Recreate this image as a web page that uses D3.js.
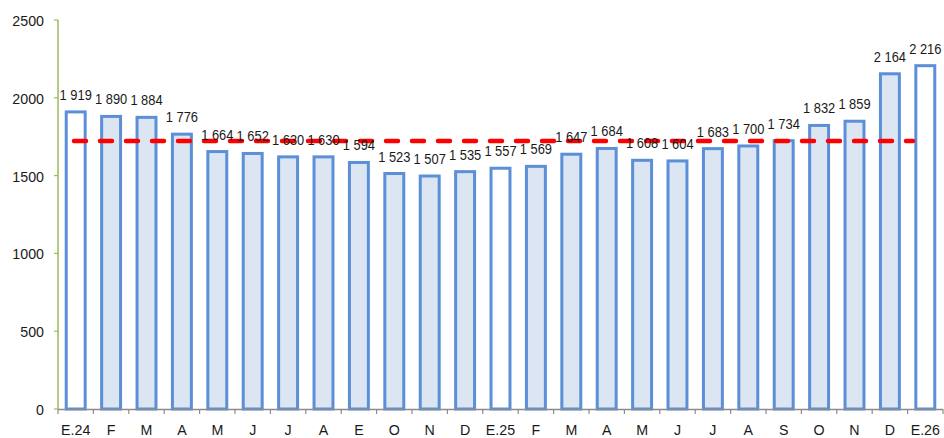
<!DOCTYPE html>
<html><head><meta charset="utf-8">
<script src="https://cdn.jsdelivr.net/npm/d3@7"></script>
<style>body{margin:0;background:#fff}svg{display:block}text{font-family:"Liberation Sans",Arial,sans-serif}</style>
</head><body><svg id="c" width="944" height="438"></svg>
<script>
const categories = ["E.24","F","M","A","M","J","J","A","E","O","N","D","E.25","F","M","A","M","J","J","A","S","O","N","D","E.26"];
const values = [1919,1890,1884,1776,1664,1652,1630,1630,1594,1523,1507,1535,1557,1569,1647,1684,1608,1604,1683,1700,1734,1832,1859,2164,2216];
const labels = ["1 919","1 890","1 884","1 776","1 664","1 652","1 630","1 630","1 594","1 523","1 507","1 535","1 557","1 569","1 647","1 684","1 608","1 604","1 683","1 700","1 734","1 832","1 859","2 164","2 216"];
const januaries = ["E.24","E.25","E.26"];
const averageValue = 1722;
const averagePoints = 24;
const yTicks = [0,500,1000,1500,2000,2500];

const svg = d3.select("#c");
const mLeft = 58, mRight = 943, mTop = 20, mBottom = 409;
const keys = categories.map((c,i)=>i);
const x = d3.scaleBand().domain(keys).range([mLeft,mRight]).paddingInner(0.38).paddingOuter(0.19);
const y = d3.scaleLinear().domain([0,2500]).range([mBottom,mTop]);
const step = x.step();

// bars
svg.append("g").selectAll("rect").data(values).join("rect")
  .attr("x",(d,i)=>x(i)+1.5).attr("width",x.bandwidth()-3)
  .attr("y",d=>y(d)+1.5).attr("height",d=>mBottom-y(d)-1.5)
  .attr("fill",(d,i)=>januaries.includes(categories[i])?"#ffffff":"#dce6f2")
  .attr("stroke","#5b8fd8").attr("stroke-width",3);

// x axis
const gx = svg.append("g");
gx.append("line").attr("x1",mLeft).attr("x2",mRight).attr("y1",mBottom+0.5).attr("y2",mBottom+0.5).attr("stroke","#8c8c8c").attr("stroke-width",1.5);
gx.selectAll("line.t").data(d3.range(categories.length+1)).join("line").attr("class","t")
  .attr("x1",i=>mLeft+i*step).attr("x2",i=>mLeft+i*step).attr("y1",mBottom).attr("y2",mBottom+5)
  .attr("stroke","#8c8c8c").attr("stroke-width",1.2);
gx.selectAll("text").data(categories).join("text")
  .attr("transform",(d,i)=>`translate(${x(i)+x.bandwidth()/2},435) scale(0.95,1)`)
  .attr("text-anchor","middle")
  .attr("font-size",15).attr("fill","#1a1a1a").text(d=>d);

// y axis
const gy = svg.append("g");
gy.append("line").attr("x1",mLeft).attr("x2",mLeft).attr("y1",mTop).attr("y2",mBottom).attr("stroke","#9bbb59").attr("stroke-width",1.5);
gy.selectAll("line.t").data(yTicks).join("line").attr("class","t")
  .attr("x1",mLeft-4).attr("x2",mLeft).attr("y1",d=>y(d)).attr("y2",d=>y(d)).attr("stroke","#9bbb59").attr("stroke-width",1.2);
gy.selectAll("text").data(yTicks).join("text")
  .attr("transform",d=>`translate(44,${y(d)+6}) scale(0.95,1)`)
  .attr("text-anchor","end")
  .attr("font-size",15).attr("fill","#1a1a1a").text(d=>d);

// average dashed line (secondary category axis)
const xl = d3.scaleLinear().domain([0,averagePoints-1]).range([74,913]);
const avgData = d3.range(averagePoints).map(()=>averageValue);
svg.append("path").datum(avgData)
  .attr("d",d3.line().x((d,i)=>xl(i)).y(d=>y(d)))
  .attr("fill","none").attr("stroke","#ff0000").attr("stroke-width",4.5)
  .attr("stroke-dasharray","12,14").attr("stroke-linecap","round");

// labels
svg.append("g").selectAll("text").data(values).join("text")
  .attr("transform",(d,i)=>`translate(${x(i)+x.bandwidth()/2},${y(d)-10.5}) scale(0.86,1)`)
  .attr("text-anchor","middle").attr("font-size",15).attr("fill","#1a1a1a")
  .text((d,i)=>labels[i]);
</script></body></html>
